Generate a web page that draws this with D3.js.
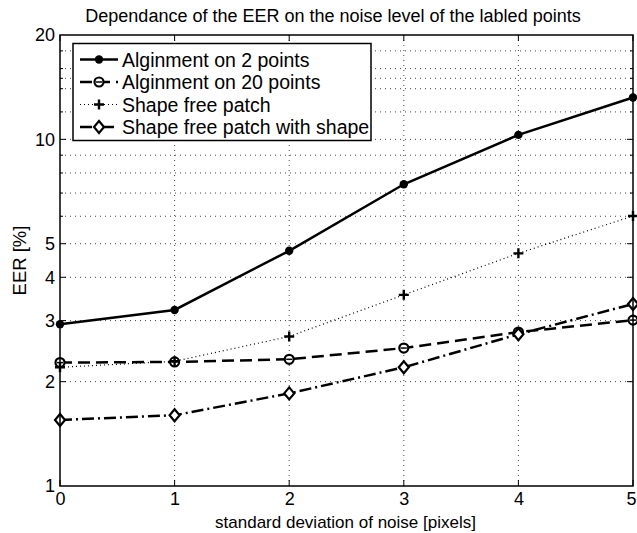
<!DOCTYPE html>
<html><head><meta charset="utf-8">
<script src="https://cdn.jsdelivr.net/npm/d3@7"></script>
<style>body{margin:0;background:#fff}svg{display:block}text{font-family:"Liberation Sans",Arial,sans-serif;fill:#000}</style>
</head><body>
<script>
const noise = [0, 1, 2, 3, 4, 5];
const align2 = [2.93, 3.22, 4.77, 7.42, 10.3, 13.2];
const align20 = [2.27, 2.28, 2.32, 2.50, 2.78, 3.01];
const shapeFree = [2.20, 2.29, 2.70, 3.56, 4.69, 6.01];
const shapeFreeWithShape = [1.55, 1.60, 1.85, 2.20, 2.74, 3.35];
const seriesNames = ["Alginment on 2 points", "Alginment on 20 points", "Shape free patch", "Shape free patch with shape"];
const yTickLabels = [1, 2, 3, 4, 5, 10, 20];
const yGridValues = [2, 3, 4, 5, 6, 7, 8, 9, 10, 12, 14, 15, 16, 18];
const xTickLabels = [0, 1, 2, 3, 4, 5];
const title = "Dependance of the EER on the noise level of the labled points";
const xTitle = "standard deviation of noise [pixels]";
const yTitle = "EER [%]";

const W = 637, H = 533;
const L = 60, R = 633, T = 35, B = 486;
const svg = d3.select("body").append("svg").attr("width", W).attr("height", H);
const x = d3.scaleLinear().domain([0, 5]).range([L, R]);
const y = d3.scaleLog().domain([1, 20]).range([B, T]);

// grid
const g = svg.append("g");
g.selectAll(".hg").data(yGridValues).enter().append("line")
  .attr("x1", L).attr("x2", R).attr("y1", d => y(d)).attr("y2", d => y(d))
  .attr("stroke", "#444").attr("stroke-width", 1).attr("stroke-dasharray", "1,4");
g.selectAll(".vg").data(xTickLabels.slice(1, -1)).enter().append("line")
  .attr("x1", d => x(d)).attr("x2", d => x(d)).attr("y1", T).attr("y2", B)
  .attr("stroke", "#444").attr("stroke-width", 1).attr("stroke-dasharray", "1,4");

// ticks inward
const tk = svg.append("g").attr("stroke", "#000").attr("stroke-width", 1);
yGridValues.forEach(v => {
  const len = yTickLabels.includes(v) ? 6 : 3;
  tk.append("line").attr("x1", L).attr("x2", L + len).attr("y1", y(v)).attr("y2", y(v));
  tk.append("line").attr("x1", R).attr("x2", R - len).attr("y1", y(v)).attr("y2", y(v));
});
xTickLabels.forEach(v => {
  tk.append("line").attr("x1", x(v)).attr("x2", x(v)).attr("y1", B).attr("y2", B - 6);
  tk.append("line").attr("x1", x(v)).attr("x2", x(v)).attr("y1", T).attr("y2", T + 6);
});

// axes via d3
const yAxis = d3.axisLeft(y).tickValues(yTickLabels).tickFormat(d3.format("d")).tickSize(0).tickPadding(5);
const ya = svg.append("g").attr("transform", `translate(${L},0)`).call(yAxis);
ya.select(".domain").remove();
ya.selectAll("text").style("font-size", "18px").attr("font-family", null);
const xAxis = d3.axisBottom(x).tickValues(xTickLabels).tickFormat(d3.format("d")).tickSize(0).tickPadding(6);
const xa = svg.append("g").attr("transform", `translate(0,${B})`).call(xAxis);
xa.select(".domain").remove();
xa.selectAll("text").style("font-size", "18px").attr("font-family", null)
  .attr("text-anchor", d => d === 5 ? "end" : "middle")
  .attr("dx", d => d === 5 ? "3" : null);

// series
const allSeries = [align2, align20, shapeFree, shapeFreeWithShape];
const dashes = [null, "12,6", "1,3", "12,4,2,4"];
const widths = [2.5, 2.5, 1.2, 2.5];
const line = d3.line().x((d, i) => x(noise[i])).y(d => y(d));
function marker(sel, k, cx, cy) {
  if (k === 0) {
    sel.append("circle").attr("cx", cx).attr("cy", cy).attr("r", 4.2).attr("fill", "#000");
  } else if (k === 1) {
    sel.append("circle").attr("cx", cx).attr("cy", cy).attr("r", 4.5).attr("fill", "#fff").attr("stroke", "#000").attr("stroke-width", 2.2);
    sel.append("line").attr("x1", cx - 3).attr("x2", cx + 3).attr("y1", cy).attr("y2", cy).attr("stroke", "#000").attr("stroke-width", 1.5);
  } else if (k === 2) {
    sel.append("path").attr("d", `M${cx - 5},${cy}H${cx + 5}M${cx},${cy - 5}V${cy + 5}`).attr("stroke", "#000").attr("stroke-width", 2.4);
  } else {
    sel.append("path").attr("d", `M${cx},${cy - 6}L${cx + 5},${cy}L${cx},${cy + 6}L${cx - 5},${cy}Z`).attr("fill", "#fff").attr("stroke", "#000").attr("stroke-width", 2.2);
  }
}
allSeries.forEach((s, k) => {
  const gg = svg.append("g");
  gg.append("path").attr("d", line(s)).attr("fill", "none").attr("stroke", "#000")
    .attr("stroke-width", widths[k]).attr("stroke-dasharray", dashes[k]);
  s.forEach((v, i) => marker(gg, k, x(noise[i]), y(v)));
});

// box
svg.append("rect").attr("x", L).attr("y", T).attr("width", R - L).attr("height", B - T)
  .attr("fill", "none").attr("stroke", "#000").attr("stroke-width", 1.5);

// legend
const lg = svg.append("g");
lg.append("rect").attr("x", 73).attr("y", 43.5).attr("width", 298).attr("height", 97)
  .attr("fill", "#fff").attr("stroke", "#000").attr("stroke-width", 1.5);
seriesNames.forEach((n, k) => {
  const cy = 59.5 + k * 22.5;
  lg.append("line").attr("x1", 80).attr("x2", 118).attr("y1", cy).attr("y2", cy)
    .attr("stroke", "#000").attr("stroke-width", widths[k]).attr("stroke-dasharray", dashes[k]);
  marker(lg, k, 99, cy);
  lg.append("text").attr("x", 122).attr("y", cy + 7).style("font-size", "19.5px").text(n);
});

// titles
svg.append("text").attr("x", 333).attr("y", 22).attr("text-anchor", "middle").style("font-size", "18px").text(title);
svg.append("text").attr("x", (L + R) / 2 - 1).attr("y", 528).attr("text-anchor", "middle").style("font-size", "17px").text(xTitle);
svg.append("text").attr("transform", `translate(26,${(T + B) / 2}) rotate(-90)`).attr("text-anchor", "middle").style("font-size", "18.5px").text(yTitle);
</script>
</body></html>
